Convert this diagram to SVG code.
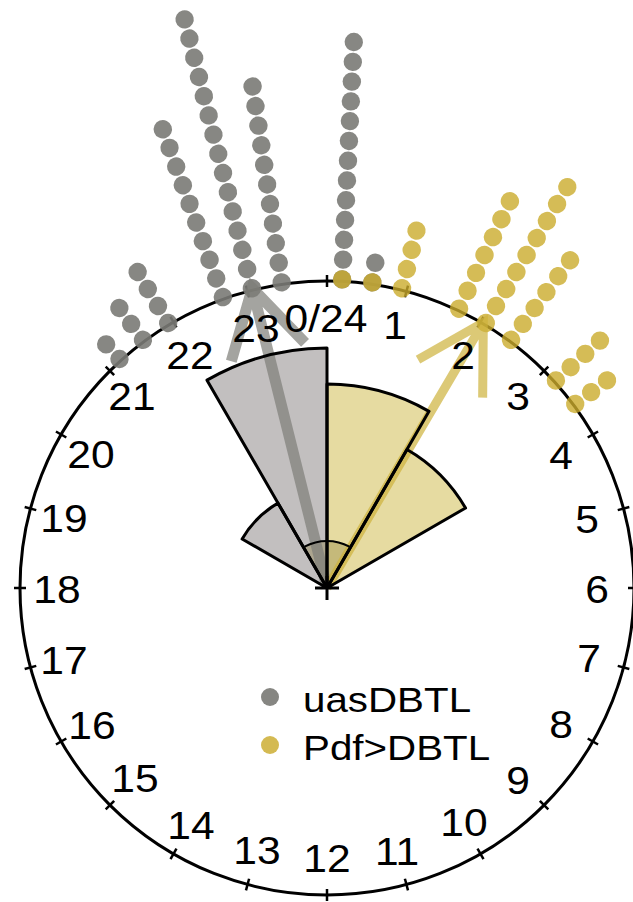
<svg xmlns="http://www.w3.org/2000/svg" width="633" height="902" viewBox="0 0 633 902">
<style>
.lbl{font-family:"Liberation Sans",Arial,Helvetica,sans-serif;font-size:38px;text-anchor:middle;fill:#000}
.leg{font-family:"Liberation Sans",Arial,Helvetica,sans-serif;font-size:36px;fill:#000}
.gd{fill:#7a7a76;fill-opacity:0.9}
.yd{fill:#caab2c;fill-opacity:0.8}
.wg{fill:#c2bfbf}
.wy{fill:#e6dba1}
.wo{fill:none;stroke:#000;stroke-width:3;stroke-linejoin:round}
.tick{stroke:#000;stroke-width:2.5}
.vg{stroke:#7d7d78;stroke-width:11;fill:none}
.vy{stroke:#cdb23c;stroke-width:9;fill:none}
</style>
<defs>
<circle id="d0" cx="327" cy="279" r="9.2"/><circle id="d1" cx="327" cy="259.2" r="9.2"/><circle id="d2" cx="327" cy="239.4" r="9.2"/><circle id="d3" cx="327" cy="219.6" r="9.2"/><circle id="d4" cx="327" cy="199.8" r="9.2"/><circle id="d5" cx="327" cy="180" r="9.2"/><circle id="d6" cx="327" cy="160.2" r="9.2"/><circle id="d7" cx="327" cy="140.4" r="9.2"/><circle id="d8" cx="327" cy="120.6" r="9.2"/><circle id="d9" cx="327" cy="100.8" r="9.2"/><circle id="d10" cx="327" cy="81" r="9.2"/><circle id="d11" cx="327" cy="61.2" r="9.2"/><circle id="d12" cx="327" cy="41.4" r="9.2"/><circle id="d13" cx="327" cy="21.6" r="9.2"/><circle id="d14" cx="327" cy="1.8" r="9.2"/>
<path id="wA" d="M327,588 L242.13,539 A98,98 0 0 1 278,503.13 Z"/>
<path id="wB" d="M327,588 L207,380.15 A240,240 0 0 1 327,348 Z"/>
<path id="wC" d="M327,588 L327,384 A204,204 0 0 1 429,411.33 Z"/>
<path id="wD" d="M327,588 L407,449.44 A160,160 0 0 1 465.56,508 Z"/>
</defs>
<rect width="633" height="902" fill="#fff"/>
<g id="wedge-fills">
<use href="#wA" class="wg"/>
<use href="#wB" class="wg"/>
<use href="#wC" class="wy"/>
<use href="#wD" class="wy"/>
<path d="M327,588 L304.57,546.7 A47,47 0 0 1 349.43,546.7 Z" fill="#7a6a20" fill-opacity="0.3"/>
</g>
<g id="clock">
<circle cx="327" cy="588" r="307" fill="none" stroke="#000" stroke-width="3"/>
<g class="tick">
<line x1="327" y1="275" x2="327" y2="287"/>
<line x1="327" y1="275" x2="327" y2="287" transform="rotate(15 327 588)"/>
<line x1="327" y1="275" x2="327" y2="287" transform="rotate(30 327 588)"/>
<line x1="327" y1="275" x2="327" y2="287" transform="rotate(45 327 588)"/>
<line x1="327" y1="275" x2="327" y2="287" transform="rotate(60 327 588)"/>
<line x1="327" y1="275" x2="327" y2="287" transform="rotate(75 327 588)"/>
<line x1="327" y1="275" x2="327" y2="287" transform="rotate(90 327 588)"/>
<line x1="327" y1="275" x2="327" y2="287" transform="rotate(105 327 588)"/>
<line x1="327" y1="275" x2="327" y2="287" transform="rotate(120 327 588)"/>
<line x1="327" y1="275" x2="327" y2="287" transform="rotate(135 327 588)"/>
<line x1="327" y1="275" x2="327" y2="287" transform="rotate(150 327 588)"/>
<line x1="327" y1="275" x2="327" y2="287" transform="rotate(165 327 588)"/>
<line x1="327" y1="275" x2="327" y2="287" transform="rotate(180 327 588)"/>
<line x1="327" y1="275" x2="327" y2="287" transform="rotate(195 327 588)"/>
<line x1="327" y1="275" x2="327" y2="287" transform="rotate(210 327 588)"/>
<line x1="327" y1="275" x2="327" y2="287" transform="rotate(225 327 588)"/>
<line x1="327" y1="275" x2="327" y2="287" transform="rotate(240 327 588)"/>
<line x1="327" y1="275" x2="327" y2="287" transform="rotate(255 327 588)"/>
<line x1="327" y1="275" x2="327" y2="287" transform="rotate(270 327 588)"/>
<line x1="327" y1="275" x2="327" y2="287" transform="rotate(285 327 588)"/>
<line x1="327" y1="275" x2="327" y2="287" transform="rotate(300 327 588)"/>
<line x1="327" y1="275" x2="327" y2="287" transform="rotate(315 327 588)"/>
<line x1="327" y1="275" x2="327" y2="287" transform="rotate(330 327 588)"/>
<line x1="327" y1="275" x2="327" y2="287" transform="rotate(345 327 588)"/>
</g>
</g>
<g id="dots-uas" class="gd">
<g transform="rotate(-14.06 327 588)"><use href="#d0"/><use href="#d1"/><use href="#d2"/><use href="#d3"/><use href="#d4"/><use href="#d5"/><use href="#d6"/><use href="#d7"/><use href="#d8"/><use href="#d9"/><use href="#d10"/><use href="#d11"/><use href="#d12"/><use href="#d13"/><use href="#d14"/></g>
<g transform="rotate(-8.44 327 588)"><use href="#d0"/><use href="#d1"/><use href="#d2"/><use href="#d3"/><use href="#d4"/><use href="#d5"/><use href="#d6"/><use href="#d7"/><use href="#d8"/><use href="#d9"/><use href="#d10"/></g>
<g transform="rotate(-19.69 327 588)"><use href="#d0"/><use href="#d1"/><use href="#d2"/><use href="#d3"/><use href="#d4"/><use href="#d5"/><use href="#d6"/><use href="#d7"/><use href="#d8"/><use href="#d9"/></g>
<g transform="rotate(-30.94 327 588)"><use href="#d0"/><use href="#d1"/><use href="#d2"/><use href="#d3"/></g>
<g transform="rotate(-36.56 327 588)"><use href="#d0"/><use href="#d1"/><use href="#d2"/></g>
<g transform="rotate(-42.19 327 588)"><use href="#d0"/><use href="#d1"/></g>
<g transform="rotate(2.81 327 588)"><use href="#d0"/><use href="#d1"/><use href="#d2"/><use href="#d3"/><use href="#d4"/><use href="#d5"/><use href="#d6"/><use href="#d7"/><use href="#d8"/><use href="#d9"/><use href="#d10"/><use href="#d11"/><use href="#d12"/></g>
<g transform="rotate(8.44 327 588)"><use href="#d0"/><use href="#d1"/></g>
</g>
<g id="dots-pdf" class="yd">
<g transform="rotate(2.81 327 588)"><use href="#d0"/></g>
<g transform="rotate(8.44 327 588)"><use href="#d0"/></g>
<g transform="rotate(14.06 327 588)"><use href="#d0"/><use href="#d1"/><use href="#d2"/><use href="#d3"/></g>
<g transform="rotate(25.31 327 588)"><use href="#d0"/><use href="#d1"/><use href="#d2"/><use href="#d3"/><use href="#d4"/><use href="#d5"/><use href="#d6"/></g>
<g transform="rotate(30.94 327 588)"><use href="#d0"/><use href="#d1"/><use href="#d2"/><use href="#d3"/><use href="#d4"/><use href="#d5"/><use href="#d6"/><use href="#d7"/><use href="#d8"/></g>
<g transform="rotate(36.56 327 588)"><use href="#d0"/><use href="#d1"/><use href="#d2"/><use href="#d3"/><use href="#d4"/><use href="#d5"/></g>
<g transform="rotate(47.81 327 588)"><use href="#d0"/><use href="#d1"/><use href="#d2"/><use href="#d3"/></g>
<g transform="rotate(53.44 327 588)"><use href="#d0"/><use href="#d1"/><use href="#d2"/></g>
</g>
<g id="connectors">
<g id="vector-uas" opacity="0.7" transform="rotate(-14 327 588)">
<path class="vg" d="M327,588 L327,279 M289,344.8 L327,279 L365,344.8"/>
</g>
<g id="vector-pdf" opacity="0.7" transform="rotate(30.5 327 588)">
<path class="vy" d="M327,588 L327,280 M289.5,345 L327,280 L364.5,345"/>
</g>
</g>
<g id="wedge-outlines" class="wo">
<use href="#wA"/>
<use href="#wB"/>
<use href="#wC"/>
<use href="#wD"/>
<path d="M304.57,546.7 A47,47 0 0 1 349.43,546.7" stroke-width="2"/>
</g>
<g id="center-cross" stroke="#000" stroke-width="3">
<line x1="315" y1="588" x2="339" y2="588"/>
<line x1="327" y1="576" x2="327" y2="600"/>
</g>
<g id="hour-labels" class="lbl">
<text transform="translate(326 318) scale(1.12 1)" y="13.5">0/24</text>
<text transform="translate(395 325) scale(1.12 1)" y="13.5">1</text>
<text transform="translate(463 355) scale(1.12 1)" y="13.5">2</text>
<text transform="translate(518 396) scale(1.12 1)" y="13.5">3</text>
<text transform="translate(561 455) scale(1.12 1)" y="13.5">4</text>
<text transform="translate(587 519) scale(1.12 1)" y="13.5">5</text>
<text transform="translate(597 589) scale(1.12 1)" y="13.5">6</text>
<text transform="translate(589 658) scale(1.12 1)" y="13.5">7</text>
<text transform="translate(561 724) scale(1.12 1)" y="13.5">8</text>
<text transform="translate(518 780) scale(1.12 1)" y="13.5">9</text>
<text transform="translate(464 822) scale(1.12 1)" y="13.5">10</text>
<text transform="translate(397 851) scale(1.12 1)" y="13.5">11</text>
<text transform="translate(327 858) scale(1.12 1)" y="13.5">12</text>
<text transform="translate(257 850) scale(1.12 1)" y="13.5">13</text>
<text transform="translate(191 825) scale(1.12 1)" y="13.5">14</text>
<text transform="translate(135 778) scale(1.12 1)" y="13.5">15</text>
<text transform="translate(92 725) scale(1.12 1)" y="13.5">16</text>
<text transform="translate(64 660) scale(1.12 1)" y="13.5">17</text>
<text transform="translate(57 589) scale(1.12 1)" y="13.5">18</text>
<text transform="translate(64 518) scale(1.12 1)" y="13.5">19</text>
<text transform="translate(91 454) scale(1.12 1)" y="13.5">20</text>
<text transform="translate(132 396) scale(1.12 1)" y="13.5">21</text>
<text transform="translate(190 355) scale(1.12 1)" y="13.5">22</text>
<text transform="translate(256 328) scale(1.12 1)" y="13.5">23</text>
</g>
<g id="legend">
<circle cx="270" cy="697" r="9" fill="#868682"/>
<circle cx="270" cy="745" r="9" fill="#d4ba52"/>
<text class="leg" transform="translate(303 712) scale(1.12 1)">uasDBTL</text>
<text class="leg" transform="translate(303 760) scale(1.12 1)">Pdf&gt;DBTL</text>
</g>
</svg>
